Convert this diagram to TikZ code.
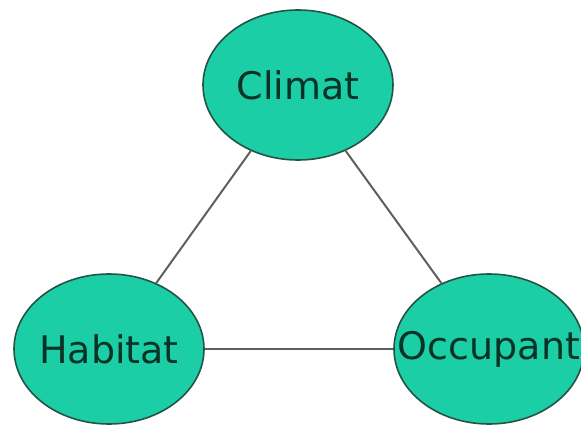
\documentclass[tikz,border=0pt]{standalone}
\usepackage{fontspec}
\setmainfont{DejaVu Sans}
\usetikzlibrary{shapes}
\definecolor{bubblefill}{RGB}{28,206,166}
\definecolor{bubbleline}{RGB}{35,85,68}
\definecolor{wordcol}{RGB}{8,50,38}
\definecolor{edgecol}{RGB}{95,95,95}

\begin{document}
\begin{tikzpicture}[x=1pt,y=1pt]
\tikzset{bubble/.style={draw=bubbleline,line width=1.6pt,fill=bubblefill,ellipse,minimum width=190pt,minimum height=150pt,inner sep=0pt,label distance=0pt},
word/.style={font=\fontsize{38}{42}\selectfont,text=wordcol},
edge/.style={draw=edgecol,line width=2pt}}
\useasboundingbox (0,0) rectangle (581,-425);
\node[bubble,label={[word]center:Climat}] (climat) at (298,-85) {};
\node[bubble,label={[word]center:Habitat}] (habitat) at (109,-349) {};
\node[bubble,label={[word]center:Occupant}] (occupant) at (489,-349) {};
\draw[edge] (climat) -- (habitat);
\draw[edge] (climat) -- (occupant);
\draw[edge] (habitat) -- (occupant);
\end{tikzpicture}
\end{document}
